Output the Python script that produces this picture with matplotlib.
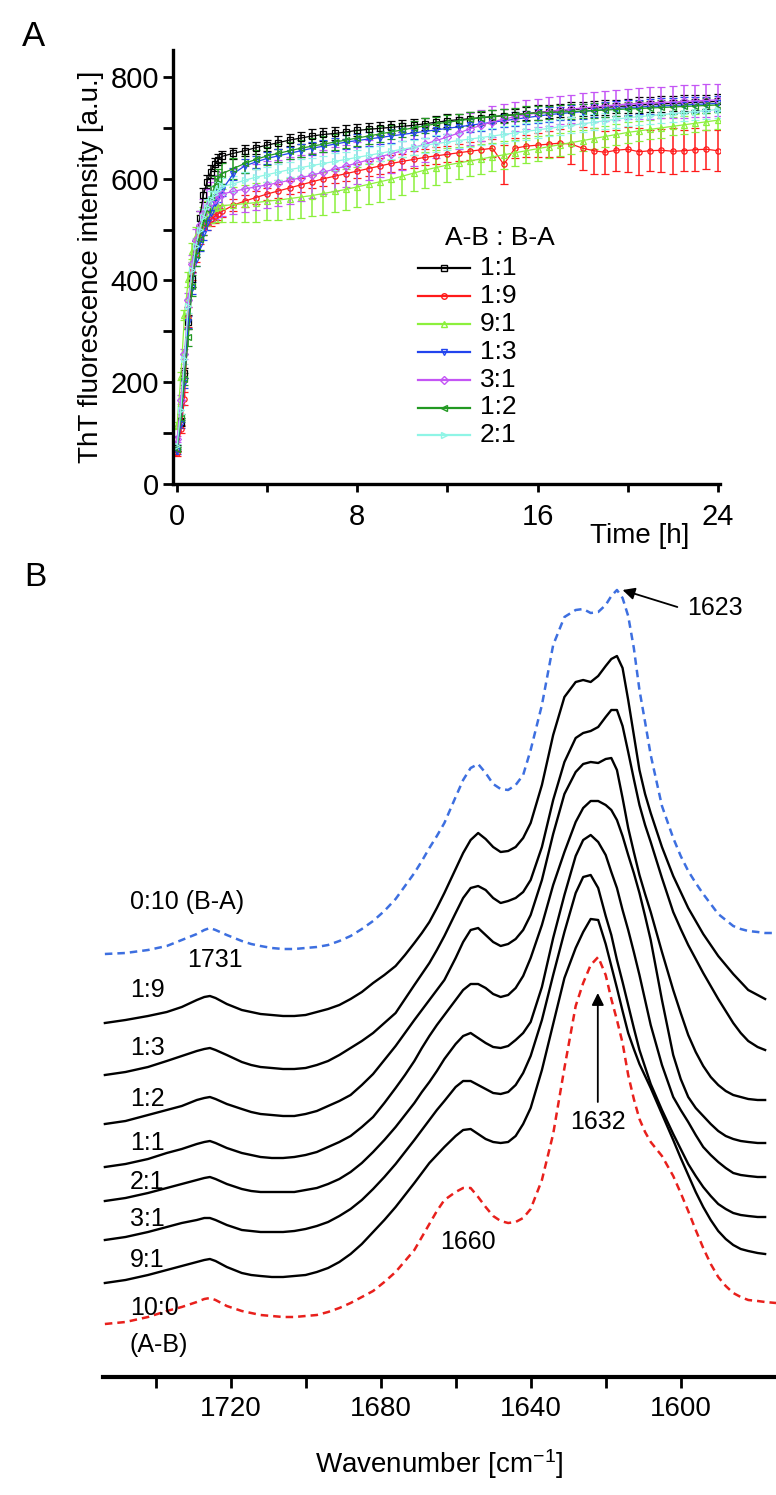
import matplotlib
matplotlib.use("Agg")
import matplotlib.pyplot as plt
from matplotlib.lines import Line2D
import numpy as np

plt.rcParams["font.family"] = ["Liberation Sans", "DejaVu Sans"]
plt.rcParams["mathtext.default"] = "regular"

# ---------------- panel A: ThT kinetics ----------------
TIME_H = [0, 0.17, 0.33, 0.5, 0.67, 0.83, 1.0, 1.17, 1.33, 1.5, 1.67, 1.83, 2.0,
          2.5, 3.0, 3.5, 4.0, 4.5, 5.0, 5.5, 6.0, 6.5, 7.0, 7.5, 8.0, 8.5, 9.0,
          9.5, 10.0, 10.5, 11.0, 11.5, 12.0, 12.5, 13.0, 13.5, 14.0, 14.5, 15.0,
          15.5, 16.0, 16.5, 17.0, 17.5, 18.0, 18.5, 19.0, 19.5, 20.0, 20.5, 21.0,
          21.5, 22.0, 22.5, 23.0, 23.5, 24.0]

RATIOS = ["1:1", "1:9", "9:1", "1:3", "3:1", "1:2", "2:1"]

THT_1_1 = [70, 122, 218, 318, 402, 462, 522, 568, 594, 614, 628, 637, 644,
           650, 655, 661, 666, 671, 676, 680, 684, 687, 689, 692, 695, 697, 699,
           701, 703, 705, 708, 711, 714, 716, 718, 720, 722, 724, 726, 728, 730,
           732, 734, 736, 737, 739, 740, 742, 743, 745, 746, 747, 748, 749, 750,
           751, 752]
ERR_1_1 = [6, 8, 10, 14, 15, 15, 14, 14, 13, 12, 12, 11, 11,
           11, 11, 12, 11, 12, 12, 12, 13, 12, 13, 13, 12, 13, 13, 12, 12, 13,
           12, 12, 13, 12, 13, 12, 13, 13, 12, 13, 14, 13, 13, 14, 13, 14, 14,
           13, 14, 15, 14, 15, 14, 15, 15, 14, 15]

THT_1_9 = [60, 108, 168, 328, 418, 452, 486, 503, 513, 520, 526, 531, 536,
           548, 556, 563, 570, 576, 582, 588, 594, 600, 605, 610, 615, 620, 625,
           630, 634, 638, 642, 645, 648, 651, 654, 657, 660, 628, 660, 664, 666,
           668, 670, 668, 660, 655, 652, 656, 658, 653, 655, 656, 654, 655, 657,
           658, 655]
ERR_1_9 = [5, 8, 12, 20, 18, 16, 15, 14, 14, 13, 13, 12, 12,
           12, 12, 13, 12, 13, 13, 14, 13, 14, 14, 15, 14, 15, 15, 16, 15, 16,
           16, 17, 16, 17, 18, 18, 18, 38, 20, 22, 24, 25, 28, 40, 42, 45, 42,
           40, 44, 46, 40, 42, 45, 40, 42, 38, 40]

THT_9_1 = [115, 212, 332, 402, 458, 488, 508, 522, 532, 538, 542, 544, 547,
           549, 551, 553, 556, 558, 561, 564, 567, 571, 575, 579, 584, 589, 594,
           599, 605, 611, 617, 622, 627, 631, 635, 639, 643, 647, 651, 655, 659,
           663, 667, 671, 675, 679, 683, 687, 691, 694, 697, 700, 703, 706, 709,
           712, 715]
ERR_9_1 = [6, 8, 10, 14, 16, 18, 20, 22, 24, 26, 28, 30, 32,
           34, 36, 38, 38, 40, 40, 41, 40, 42, 41, 40, 40, 39, 40, 38, 37, 36,
           35, 34, 33, 32, 30, 29, 28, 27, 26, 25, 24, 23, 22, 22, 21, 21, 20,
           20, 20, 19, 19, 19, 18, 18, 18, 17, 17]

THT_1_3 = [64, 118, 198, 318, 386, 440, 470, 492, 512, 532, 552, 566, 578,
           610, 625, 633, 640, 645, 650, 655, 660, 664, 668, 672, 675, 678, 681,
           684, 687, 690, 693, 696, 699, 702, 705, 708, 711, 714, 717, 720, 723,
           726, 728, 730, 732, 734, 736, 738, 740, 741, 742, 743, 744, 745, 746,
           747, 748]
ERR_1_3 = [5, 8, 10, 12, 12, 12, 12, 12, 12, 12, 12, 12, 12,
           12, 13, 12, 12, 13, 12, 13, 13, 12, 13, 13, 12, 13, 12, 13, 13, 12,
           13, 13, 12, 13, 13, 14, 13, 13, 14, 13, 14, 14, 13, 14, 14, 13, 14,
           14, 15, 14, 14, 15, 14, 15, 15, 14, 15]

THT_3_1 = [88, 166, 256, 362, 432, 480, 510, 530, 545, 555, 560, 566, 570,
           575, 580, 584, 588, 592, 597, 602, 607, 613, 619, 625, 631, 637, 643,
           649, 655, 661, 668, 675, 682, 690, 698, 705, 712, 717, 722, 726, 729,
           732, 735, 737, 739, 741, 743, 745, 747, 748, 749, 750, 751, 752, 753,
           754, 755]
ERR_3_1 = [6, 8, 10, 14, 18, 22, 26, 30, 34, 38, 40, 42, 43,
           44, 45, 45, 46, 45, 46, 45, 44, 44, 43, 42, 41, 40, 39, 38, 37, 36,
           35, 34, 33, 32, 31, 30, 30, 29, 29, 28, 28, 28, 28, 28, 29, 29, 30,
           30, 30, 31, 31, 31, 32, 32, 32, 32, 32]

THT_1_2 = [68, 130, 206, 288, 390, 450, 482, 512, 540, 565, 585, 600, 610,
           620, 630, 638, 645, 650, 655, 660, 664, 668, 672, 676, 680, 684, 688,
           692, 696, 700, 704, 708, 711, 714, 717, 720, 722, 724, 726, 728, 729,
           730, 731, 732, 733, 734, 735, 736, 737, 738, 739, 740, 741, 742, 743,
           744, 745]
ERR_1_2 = [5, 8, 12, 16, 20, 22, 22, 22, 22, 21, 20, 20, 20,
           20, 19, 19, 18, 18, 17, 17, 16, 16, 16, 15, 15, 15, 15, 14, 14, 14,
           15, 14, 14, 13, 14, 14, 13, 14, 13, 14, 14, 13, 14, 14, 13, 14, 14,
           13, 14, 14, 13, 14, 14, 13, 14, 14, 13]

THT_2_1 = [74, 146, 246, 350, 420, 468, 500, 525, 545, 560, 570, 578, 585,
           590, 597, 603, 608, 613, 618, 622, 626, 630, 634, 638, 642, 646, 650,
           654, 658, 662, 666, 669, 672, 675, 678, 681, 684, 687, 690, 693, 696,
           699, 702, 705, 708, 711, 714, 717, 720, 722, 724, 726, 728, 730, 732,
           734, 736]
ERR_2_1 = [5, 8, 10, 14, 16, 16, 16, 16, 16, 16, 16, 16, 16,
           16, 16, 16, 15, 16, 15, 16, 15, 15, 16, 15, 15, 16, 15, 15, 16, 15,
           15, 16, 15, 15, 16, 15, 16, 16, 15, 16, 16, 15, 16, 16, 17, 16, 16,
           17, 16, 17, 17, 16, 17, 17, 16, 17, 17]

# ---------------- panel B: FTIR spectra (stacked, arbitrary units) ----------------
WAVENUMBER = [1753.5, 1748, 1742, 1737, 1733, 1729, 1727, 1725.5, 1724, 1721, 1717,
              1714.5, 1712, 1709, 1706, 1703, 1700, 1697, 1694, 1691, 1688,
              1685, 1682, 1679, 1676, 1673.5, 1671, 1669, 1667, 1665, 1663,
              1660, 1658, 1656, 1654, 1652, 1650, 1648, 1646, 1644, 1642,
              1640, 1637, 1634, 1631, 1628, 1626, 1624, 1622, 1620, 1618.5,
              1617, 1615.5, 1614,
              1612.5, 1611, 1609.5, 1608, 1605, 1602, 1600, 1598, 1596, 1594,
              1592, 1590, 1588, 1586, 1584, 1582, 1579.5, 1577.5, 1574.6]
nan = np.nan
SPEC_0_10 = [4.23, 4.24, 4.27, 4.31, 4.37, 4.43, 4.47, 4.49, 4.47, 4.42, 4.36,
             4.33, 4.31, 4.29, 4.28, 4.28, 4.29, 4.30, 4.32, 4.36, 4.41,
             4.48, 4.56, 4.66, 4.78, 4.91, 5.04, 5.16, 5.29, 5.41, 5.54,
             5.80, 5.97, 6.09, 6.13, 6.04, 5.93, 5.88, 5.87, 5.92, 6.02,
             6.27, 6.72, 7.32, 7.60, 7.67, 7.68, 7.64, 7.65, 7.72, 7.81,
             7.87, 7.79, 7.61,
             7.29, 6.87, 6.55, 6.22, 5.71, 5.39, 5.21, 5.06, 4.94, 4.83,
             4.73, 4.63, 4.57, 4.51, 4.48, 4.46, 4.45, 4.44, 4.44]
SPEC_1_9 = [3.54, 3.57, 3.61, 3.65, 3.70, 3.77, 3.80, 3.81, 3.79, 3.73, 3.67,
            3.65, 3.63, 3.62, 3.61, 3.61, 3.62, 3.65, 3.68, 3.72, 3.78,
            3.85, 3.94, 4.02, 4.11, 4.22, 4.34, 4.44, 4.55, 4.69, 4.84,
            5.08, 5.24, 5.37, 5.44, 5.38, 5.30, 5.25, 5.26, 5.30, 5.39,
            5.54, 5.92, 6.42, 6.80, 6.95, 6.97, 6.95, 7.01, 7.11, 7.18,
            7.21, 7.09, 6.77,
            6.42, 6.07, 5.83, 5.64, 5.30, 5.01, 4.85, 4.69, 4.56, 4.43,
            4.32, 4.21, 4.12, 4.03, 3.95, 3.87, 3.82, 3.78, nan]
SPEC_1_3 = [3.02, 3.05, 3.10, 3.16, 3.21, 3.26, 3.28, 3.29, 3.27, 3.22, 3.15,
            3.12, 3.10, 3.09, 3.08, 3.08, 3.09, 3.12, 3.16, 3.22, 3.29,
            3.36, 3.44, 3.54, 3.64, 3.78, 3.92, 4.03, 4.14, 4.27, 4.41,
            4.64, 4.79, 4.89, 4.91, 4.87, 4.79, 4.74, 4.76, 4.79, 4.85,
            4.97, 5.30, 5.77, 6.15, 6.39, 6.44, 6.46, 6.50, 6.60, 6.67,
            6.67, 6.51, 6.25,
            5.98, 5.72, 5.52, 5.35, 4.99, 4.65, 4.48, 4.32, 4.18, 4.04,
            3.91, 3.78, 3.66, 3.54, 3.44, 3.36, 3.30, 3.27, nan]
SPEC_1_2 = [2.53, 2.56, 2.62, 2.67, 2.71, 2.77, 2.79, 2.80, 2.78, 2.73, 2.68,
            2.65, 2.63, 2.62, 2.61, 2.61, 2.63, 2.66, 2.71, 2.76, 2.82,
            2.92, 3.03, 3.17, 3.31, 3.44, 3.57, 3.67, 3.77, 3.87, 3.97,
            4.19, 4.35, 4.47, 4.49, 4.42, 4.35, 4.31, 4.33, 4.38, 4.47,
            4.62, 4.97, 5.43, 5.83, 6.05, 6.13, 6.15, 6.14, 6.18, 6.19,
            6.07, 5.79, 5.49,
            5.25, 5.02, 4.83, 4.65, 4.25, 3.87, 3.64, 3.42, 3.25, 3.11,
            3.00, 2.92, 2.86, 2.82, 2.80, 2.78, 2.77, 2.77, nan]
SPEC_1_1 = [2.10, 2.13, 2.18, 2.24, 2.28, 2.33, 2.35, 2.36, 2.34, 2.29, 2.24,
            2.22, 2.20, 2.19, 2.19, 2.20, 2.22, 2.25, 2.30, 2.35, 2.41,
            2.50, 2.60, 2.74, 2.89, 3.02, 3.16, 3.29, 3.41, 3.52, 3.62,
            3.77, 3.87, 3.93, 3.93, 3.89, 3.83, 3.80, 3.82, 3.89, 4.01,
            4.19, 4.52, 4.92, 5.25, 5.55, 5.69, 5.76, 5.76, 5.72, 5.67,
            5.57, 5.41, 5.22,
            5.04, 4.84, 4.61, 4.37, 3.77, 3.22, 2.98, 2.80, 2.69, 2.61,
            2.53, 2.46, 2.41, 2.38, 2.36, 2.35, 2.34, 2.34, nan]
SPEC_2_1 = [1.76, 1.79, 1.84, 1.89, 1.93, 1.97, 1.99, 2.00, 1.98, 1.93, 1.88,
            1.86, 1.85, 1.85, 1.85, 1.85, 1.87, 1.89, 1.93, 1.98, 2.05,
            2.14, 2.25, 2.37, 2.50, 2.62, 2.74, 2.85, 2.95, 3.06, 3.18,
            3.33, 3.41, 3.44, 3.39, 3.34, 3.30, 3.29, 3.31, 3.37, 3.44,
            3.55, 3.90, 4.39, 4.82, 5.21, 5.37, 5.42, 5.35, 5.22, 5.05,
            4.89, 4.67, 4.47,
            4.25, 4.02, 3.77, 3.52, 3.12, 2.80, 2.67, 2.55, 2.42, 2.30,
            2.22, 2.15, 2.09, 2.04, 2.02, 2.01, 2.00, 2.00, nan]
SPEC_3_1 = [1.37, 1.40, 1.45, 1.50, 1.54, 1.57, 1.59, 1.59, 1.57, 1.52, 1.47,
            1.46, 1.45, 1.45, 1.45, 1.46, 1.48, 1.51, 1.55, 1.61, 1.68,
            1.77, 1.88, 2.00, 2.13, 2.25, 2.37, 2.47, 2.57, 2.67, 2.76,
            2.90, 2.96, 2.96, 2.92, 2.88, 2.84, 2.83, 2.85, 2.92, 3.04,
            3.21, 3.57, 4.02, 4.45, 4.84, 5.00, 5.02, 4.89, 4.61, 4.42,
            4.17, 3.95, 3.72,
            3.49, 3.27, 3.10, 2.93, 2.67, 2.43, 2.28, 2.13, 2.01, 1.90,
            1.81, 1.73, 1.68, 1.64, 1.62, 1.61, 1.60, 1.60, nan]
SPEC_9_1 = [0.94, 0.97, 1.02, 1.07, 1.11, 1.15, 1.17, 1.18, 1.16, 1.10, 1.04,
            1.02, 1.01, 1.00, 1.00, 1.01, 1.02, 1.05, 1.09, 1.15, 1.23,
            1.33, 1.45, 1.57, 1.70, 1.82, 1.94, 2.04, 2.14, 2.22, 2.30,
            2.41, 2.47, 2.48, 2.43, 2.38, 2.35, 2.34, 2.35, 2.41, 2.53,
            2.69, 3.07, 3.53, 3.99, 4.29, 4.45, 4.58, 4.57, 4.33, 4.11,
            3.89, 3.66, 3.44,
            3.28, 3.13, 3.01, 2.89, 2.63, 2.37, 2.19, 2.02, 1.85, 1.70,
            1.57, 1.46, 1.38, 1.32, 1.28, 1.26, 1.24, 1.23, nan]
SPEC_10_0 = [0.53, 0.55, 0.60, 0.66, 0.70, 0.75, 0.78, 0.79, 0.77, 0.71, 0.66,
             0.64, 0.62, 0.61, 0.60, 0.60, 0.61, 0.62, 0.65, 0.69, 0.74,
             0.80, 0.86, 0.95, 1.05, 1.16, 1.27, 1.40, 1.53, 1.66, 1.77,
             1.85, 1.89, 1.89, 1.80, 1.70, 1.61, 1.56, 1.54, 1.55, 1.59,
             1.68, 1.97, 2.43, 3.09, 3.71, 3.94, 4.12, 4.20, 4.02, 3.78,
             3.57, 3.34, 3.02,
             2.78, 2.58, 2.45, 2.35, 2.21, 2.01, 1.84, 1.66, 1.47, 1.29,
             1.13, 1.00, 0.91, 0.84, 0.80, 0.77, 0.76, 0.75, 0.74]

SPEC_LABELS = ["0:10 (B-A)", "1:9", "1:3", "1:2", "1:1", "2:1", "3:1", "9:1", "10:0", "(A-B)"]
SPEC_LABEL_Y = [4.75, 3.87, 3.29, 2.78, 2.34, 1.95, 1.58, 1.17, 0.69, 0.32]

# ---------------- figure ----------------
W, H = 776, 1495
fig = plt.figure(figsize=(W / 100, H / 100), dpi=100)


def px_axes(left, top, right, bottom):
    return fig.add_axes([left / W, 1 - bottom / H, (right - left) / W, (bottom - top) / H])


def fx(x):
    return x / W


def fy(y):
    return 1 - y / H


# ---- panel A
axA = px_axes(173, 50, 720, 484)
series = [THT_1_1, THT_1_9, THT_9_1, THT_1_3, THT_3_1, THT_1_2, THT_2_1]
errors = [ERR_1_1, ERR_1_9, ERR_9_1, ERR_1_3, ERR_3_1, ERR_1_2, ERR_2_1]
colors = ["#000000", "#ff1a1a", "#8cf03c", "#2244ee", "#c455f5", "#229922", "#8ff5e6"]
markers = ["s", "o", "^", "v", "D", "<", ">"]

for vals, err, c, m in zip(series, errors, colors, markers):
    axA.errorbar(TIME_H, vals, yerr=err, color=c, marker=m, ms=3.8, mfc="none",
                 mew=0.9, lw=0.9, elinewidth=1.1, capsize=2.6, capthick=1.1)

axA.set_xlim(-0.18, 24.1)
axA.set_ylim(0, 853)
for s in ["top", "right"]:
    axA.spines[s].set_visible(False)
for s in ["left", "bottom"]:
    axA.spines[s].set_linewidth(2.4)
axA.set_xticks([0, 8, 16, 24])
axA.set_xticks([4, 12, 20], minor=True)
axA.set_yticks([0, 200, 400, 600, 800])
axA.set_yticks([100, 300, 500, 700], minor=True)
axA.tick_params(which="both", direction="out", width=2, labelsize=21)
axA.tick_params(axis="y", which="both", length=7, pad=3)
axA.tick_params(axis="x", which="both", length=6, pad=8)
axA.set_ylabel("ThT fluorescence intensity [a.u.]", fontsize=20, labelpad=5)
fig.text(fx(640), fy(536), "Time [h]", fontsize=20, ha="center", va="center")
fig.text(fx(22), fy(36), "A", fontsize=25, ha="left", va="center")

# legend drawn by hand to match the spacing of the original
fig.text(fx(500), fy(238), "A-B : B-A", fontsize=19, ha="center", va="center")
for i, (lab, c, m) in enumerate(zip(RATIOS, colors, markers)):
    y = fy(268 + 27.9 * i)
    fig.add_artist(Line2D([fx(418), fx(470)], [y, y], color=c, lw=1.6))
    fig.add_artist(Line2D([fx(444)], [y], color=c, marker=m, ms=4, mfc="none", mew=1.0))
    fig.text(fx(480), y, lab, fontsize=19, ha="left", va="center")

# ---- panel B
axB = px_axes(103, 575, 776, 1377)
spectra = [SPEC_0_10, SPEC_1_9, SPEC_1_3, SPEC_1_2, SPEC_1_1, SPEC_2_1, SPEC_3_1, SPEC_9_1, SPEC_10_0]
for k, spec in enumerate(spectra):
    if k == 0:
        axB.plot(WAVENUMBER, spec, color="#3d6fe0", lw=1.8, ls=(0, (3, 2)))
    elif k == len(spectra) - 1:
        axB.plot(WAVENUMBER, spec, color="#e8201c", lw=1.8, ls=(0, (3, 2)))
    else:
        axB.plot(WAVENUMBER, spec, color="black", lw=1.7, solid_joinstyle="round")

axB.set_xlim(1754, 1574.6)
axB.set_ylim(0, 8.02)
for s in ["top", "right", "left"]:
    axB.spines[s].set_visible(False)
axB.spines["bottom"].set_linewidth(3)
axB.set_yticks([])
axB.set_xticks([1720, 1680, 1640, 1600])
axB.set_xticks([1740, 1700, 1660, 1620], minor=True)
axB.tick_params(axis="x", which="both", direction="out", length=8, width=2,
                labelsize=20, pad=6)
axB.set_xlabel("Wavenumber [cm$^{-1}$]", fontsize=20, labelpad=18)

for lab, y in zip(SPEC_LABELS, SPEC_LABEL_Y):
    axB.text(1746.9, y, lab, fontsize=18, ha="left", va="center")

axB.text(1724.1, 4.17, "1731", fontsize=18, ha="center", va="center")
axB.text(1656.6, 1.35, "1660", fontsize=18, ha="center", va="center")
axB.text(1598.2, 7.69, "1623", fontsize=18, ha="left", va="center")
axB.text(1622.1, 2.55, "1632", fontsize=18, ha="center", va="center")
arrow = dict(arrowstyle="-|>", color="black", lw=1.3, mutation_scale=18, shrinkA=0, shrinkB=0)
axB.annotate("", xy=(1615.5, 7.87), xytext=(1600.9, 7.70), arrowprops=arrow)
axB.annotate("", xy=(1622.1, 3.84), xytext=(1622.1, 2.75), arrowprops=arrow)

fig.text(fx(24), fy(578), "B", fontsize=24, ha="left", va="center")

fig.savefig("out.png", dpi=100)
